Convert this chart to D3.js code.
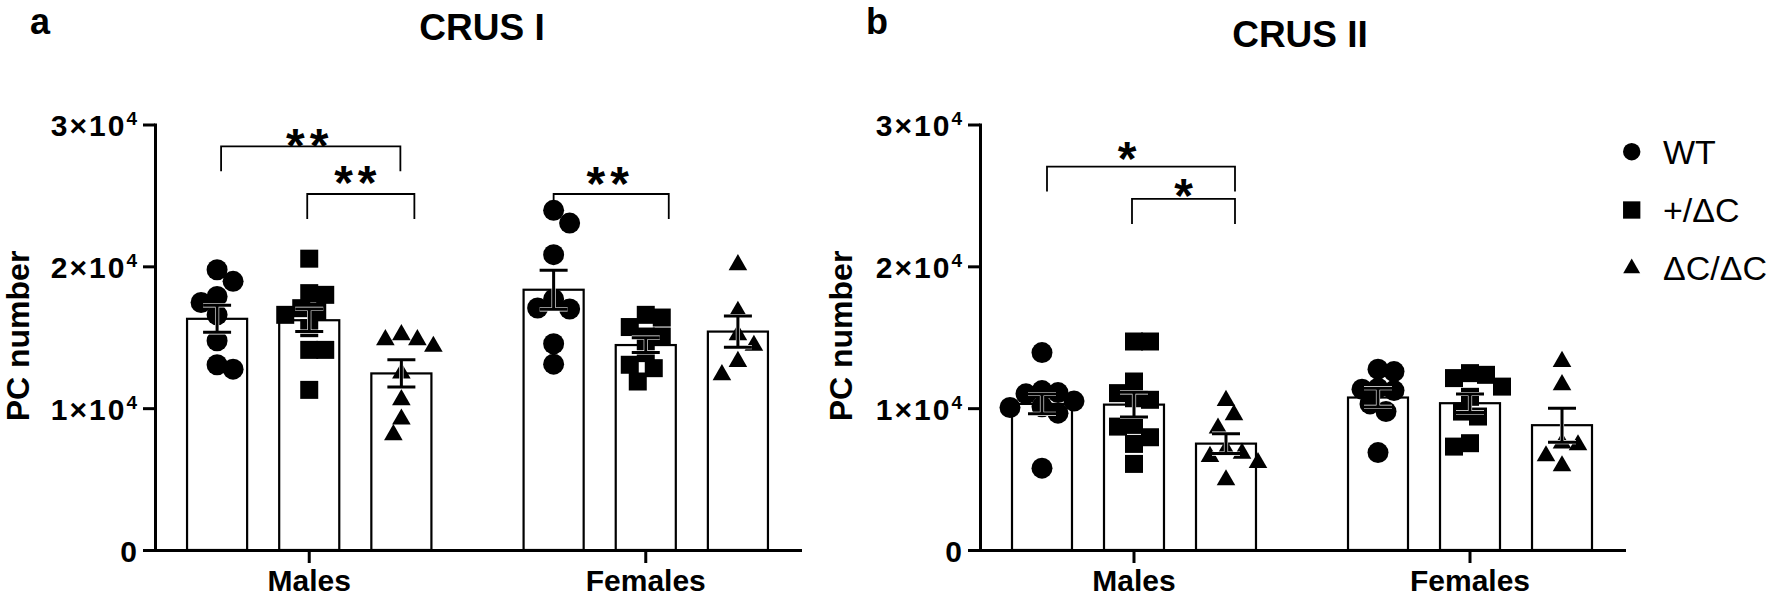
<!DOCTYPE html>
<html><head><meta charset="utf-8">
<script src="https://cdn.jsdelivr.net/npm/d3@7"></script>
<style>
body{margin:0;background:#fff;}
svg{display:block;font-family:"Liberation Sans",Arial,Helvetica,sans-serif;}
</style>
</head><body>
<svg id="chart" width="1770" height="598"></svg>
<script>
// ---------------- DATA ----------------
const groups = ["Males", "Females"];
const genotypes = ["WT", "+/ΔC", "ΔC/ΔC"];
const yTicks = [0, 10000, 20000, 30000];
const yTickLabels = ["0", "1×10^4", "2×10^4", "3×10^4"];
const panelTitles = ["CRUS I", "CRUS II"];
const panelLetters = ["a", "b"];
const yAxisTitle = "PC number";

// CRUS I — individual animals
const crusI_Males_WT      = [19760, 18940, 17880, 17450, 16580, 14750, 13060, 12750];
const crusI_Males_Het     = [20540, 18110, 17990, 17050, 16820, 16580, 15640, 14110, 14110, 11290];
const crusI_Males_Hom     = [15170, 14820, 14820, 14350, 12470, 10590, 9220, 8120];
const crusI_Females_WT    = [23950, 23050, 20820, 17690, 17060, 16990, 14540, 13100];
const crusI_Females_Het   = [16580, 16390, 15720, 15050, 15050, 13880, 13060, 12820, 11880];
const crusI_Females_Hom   = [20110, 16820, 15170, 14420, 13290, 12350];
// CRUS I — mean and SEM (Males: WT, +/ΔC, ΔC/ΔC ; Females: WT, +/ΔC, ΔC/ΔC)
const crusI_means = [[16300, 16200, 12450], [18350, 14450, 15400]];
const crusI_sems  = [[950, 800, 960], [1380, 520, 1100]];

// CRUS II — individual animals
const crusII_Males_WT     = [13920, 11240, 11100, 11010, 10500, 10100, 10050, 9650, 5770];
const crusII_Males_Het    = [14700, 14700, 11880, 11060, 10700, 10590, 8820, 8700, 7950, 7480, 6070];
const crusII_Males_Hom    = [10540, 9530, 8590, 7060, 6820, 6590, 6160, 4940];
const crusII_Females_WT   = [12750, 12580, 11410, 11340, 11240, 10300, 9760, 6870];
const crusII_Females_Het  = [12470, 12350, 12120, 11520, 10800, 9760, 9410, 7530, 7290];
const crusII_Females_Hom  = [13290, 11650, 7530, 7410, 6630, 5930];
const crusII_means = [[10300, 10250, 7500], [10750, 10350, 8800]];
const crusII_sems  = [[700, 870, 700], [660, 650, 1200]];

// significance comparisons: group index, from/to genotype index, bracket level, label
const crusI_sig = [
  {group: 0, from: 0, to: 2, level: 28460, label: "**", labelAt: 29260, nudge: [4, -1, -4]},
  {group: 0, from: 1, to: 2, level: 25100, label: "**", labelAt: 26620, nudge: [-2, 13, -6]},
  {group: 1, from: 0, to: 1, level: 25100, label: "**", labelAt: 26580, nudge: [0, 23, -4]}
];
const crusII_sig = [
  {group: 0, from: 0, to: 2, level: 27030, label: "*", labelAt: 28350, nudge: [5, 9, -14]},
  {group: 0, from: 1, to: 2, level: 24750, label: "*", labelAt: 25740, nudge: [-2, 9, 0]}
];

// ---------------- DRAWING ----------------
const svg = d3.select("#chart");
const y = d3.scaleLinear().domain([0, 30000]).range([550, 124.5]);

const shapes = [d3.symbolCircle, d3.symbolSquare, d3.symbolTriangle];
const markerSize = [346, 324, 150];
const legendSize = [238, 300, 125];

const panels = [
  {axisX: 155, right: 800, titleX: 482, titleY: 40, letterX: 30, ylabX: 29,
   points: [[crusI_Males_WT, crusI_Males_Het, crusI_Males_Hom], [crusI_Females_WT, crusI_Females_Het, crusI_Females_Hom]],
   means: crusI_means, sems: crusI_sems, sig: crusI_sig},
  {axisX: 980, right: 1624, titleX: 1300, titleY: 47, letterX: 866, ylabX: 852,
   points: [[crusII_Males_WT, crusII_Males_Het, crusII_Males_Hom], [crusII_Females_WT, crusII_Females_Het, crusII_Females_Hom]],
   means: crusII_means, sems: crusII_sems, sig: crusII_sig}
];

function swarm(vals, minDist, step) {
  const order = d3.range(vals.length).sort((a, b) => vals[b] - vals[a]);
  const placed = [];
  const xs = new Array(vals.length);
  let balance = 0;
  for (const i of order) {
    const yi = y(vals[i]);
    let chosen = null;
    for (let k = 0; k < 30 && chosen === null; k++) {
      const cands = k === 0 ? [0] : (balance > 0 ? [-k * step, k * step] : [k * step, -k * step]);
      for (const c of cands) {
        if (placed.every(p => (p.x - c) ** 2 + (p.y - yi) ** 2 >= minDist * minDist)) { chosen = c; break; }
      }
    }
    xs[i] = chosen;
    placed.push({x: chosen, y: yi});
    balance += Math.sign(chosen);
  }
  return xs;
}

panels.forEach((P, pi) => {
  const g = svg.append("g");
  const xGroup = d3.scaleBand().domain(groups).range([P.axisX, P.right])
    .paddingInner(0.1786).paddingOuter(0.0476);
  const xSeries = d3.scaleBand().domain(genotypes).range([0, xGroup.bandwidth()])
    .paddingInner(0.348).paddingOuter(0.174);
  const cx = (gi, si) => xGroup(groups[gi]) + xSeries(genotypes[si]) + xSeries.bandwidth() / 2;

  // panel letter & title
  svg.append("text").attr("x", P.letterX).attr("y", 34).attr("font-size", 36)
    .attr("font-weight", "bold").text(panelLetters[pi]);
  svg.append("text").attr("x", P.titleX).attr("y", P.titleY).attr("text-anchor", "middle")
    .attr("font-size", 37).attr("font-weight", "bold").text(panelTitles[pi]);

  // bars
  groups.forEach((grp, gi) => {
    genotypes.forEach((gt, si) => {
      g.append("rect")
        .attr("x", xGroup(grp) + xSeries(gt))
        .attr("y", y(P.means[gi][si]))
        .attr("width", xSeries.bandwidth())
        .attr("height", y(0) - y(P.means[gi][si]))
        .attr("fill", "#fff").attr("stroke", "#000").attr("stroke-width", 2.2);
    });
  });

  // points
  groups.forEach((grp, gi) => {
    genotypes.forEach((gt, si) => {
      const vals = P.points[gi][si];
      const offs = swarm(vals, 16, 8);
      const sym = d3.symbol().type(shapes[si]).size(markerSize[si]);
      g.selectAll(null).data(vals).enter().append("path")
        .attr("d", sym)
        .attr("transform", (d, i) => `translate(${cx(gi, si) + offs[i]},${y(d)})`)
        .attr("fill", "#000");
    });
  });

  // error bars (mean ± SEM) with thin white halo
  groups.forEach((grp, gi) => {
    genotypes.forEach((gt, si) => {
      const m = P.means[gi][si], s = P.sems[gi][si], c = cx(gi, si), hw = 14;
      const d = `M${c},${y(m + s)}V${y(m - s)}M${c - hw},${y(m + s)}H${c + hw}M${c - hw},${y(m - s)}H${c + hw}`;
      g.append("path").attr("d", d).attr("stroke", "#fff").attr("stroke-width", 4.2).attr("fill", "none");
      g.append("path").attr("d", d).attr("stroke", "#000").attr("stroke-width", 3).attr("fill", "none");
    });
  });

  // y axis
  const yAx = g.append("g").attr("transform", `translate(${P.axisX},0)`)
    .call(d3.axisLeft(y).tickValues(yTicks).tickSizeInner(12).tickSizeOuter(0));
  yAx.select(".domain").attr("stroke-width", 3).attr("stroke-linecap", "square");
  yAx.selectAll(".tick line").attr("stroke-width", 3);
  yAx.selectAll(".tick text").each(function(d) {
    const t = d3.select(this);
    const lab = yTickLabels[yTicks.indexOf(d)];
    const parts = lab.split("^");
    t.text(null).attr("dy", null).attr("x", -16).attr("y", 11)
      .attr("font-size", 30).attr("font-weight", "bold").attr("letter-spacing", 2)
      .attr("font-family", "'Liberation Sans', Arial, sans-serif").attr("fill", "#000");
    t.append("tspan").text(parts[0]);
    if (parts[1]) t.append("tspan").attr("dy", -11).attr("font-size", 19).text(parts[1]);
  });

  // x axis
  const xAx = g.append("g").attr("transform", `translate(0,${y(0)})`)
    .call(d3.axisBottom(xGroup).tickSizeInner(13).tickSizeOuter(0));
  xAx.select(".domain").attr("stroke-width", 3).attr("stroke-linecap", "square");
  xAx.selectAll(".tick line").attr("stroke-width", 3);
  xAx.selectAll(".tick text").attr("y", 41).attr("dy", null)
    .attr("font-size", 30).attr("font-weight", "bold")
    .attr("font-family", "'Liberation Sans', Arial, sans-serif").attr("fill", "#000");

  // y title
  svg.append("text").attr("transform", `translate(${P.ylabX},336) rotate(-90)`)
    .attr("text-anchor", "middle").attr("font-size", 32).attr("font-weight", "bold")
    .text(yAxisTitle);

  // significance brackets
  P.sig.forEach(b => {
    const x0 = cx(b.group, b.from) + b.nudge[0];
    const x1 = cx(b.group, b.to) + b.nudge[1];
    const yl = y(b.level);
    g.append("path").attr("d", `M${x0},${yl + 25}V${yl}H${x1}V${yl + 25}`)
      .attr("fill", "none").attr("stroke", "#000").attr("stroke-width", 1.8);
    const fs = 48;
    g.append("text").attr("x", (x0 + x1) / 2 + b.nudge[2] + (b.label.length > 1 ? 3 : 0))
      .attr("y", y(b.labelAt) + 0.56 * fs)
      .attr("text-anchor", "middle").attr("font-size", fs).attr("font-weight", "bold")
      .attr("letter-spacing", b.label.length > 1 ? 5 : 0)
      .text(b.label);
  });
});

// legend
const leg = svg.append("g");
genotypes.forEach((gt, i) => {
  const ly = 151.7 + i * 58.3;
  leg.append("path").attr("d", d3.symbol().type(shapes[i]).size(legendSize[i]))
    .attr("transform", `translate(1631.7,${ly})`).attr("fill", "#000");
  leg.append("text").attr("x", 1663).attr("y", ly + 12).attr("font-size", 34).text(gt);
});
</script>
</body></html>
